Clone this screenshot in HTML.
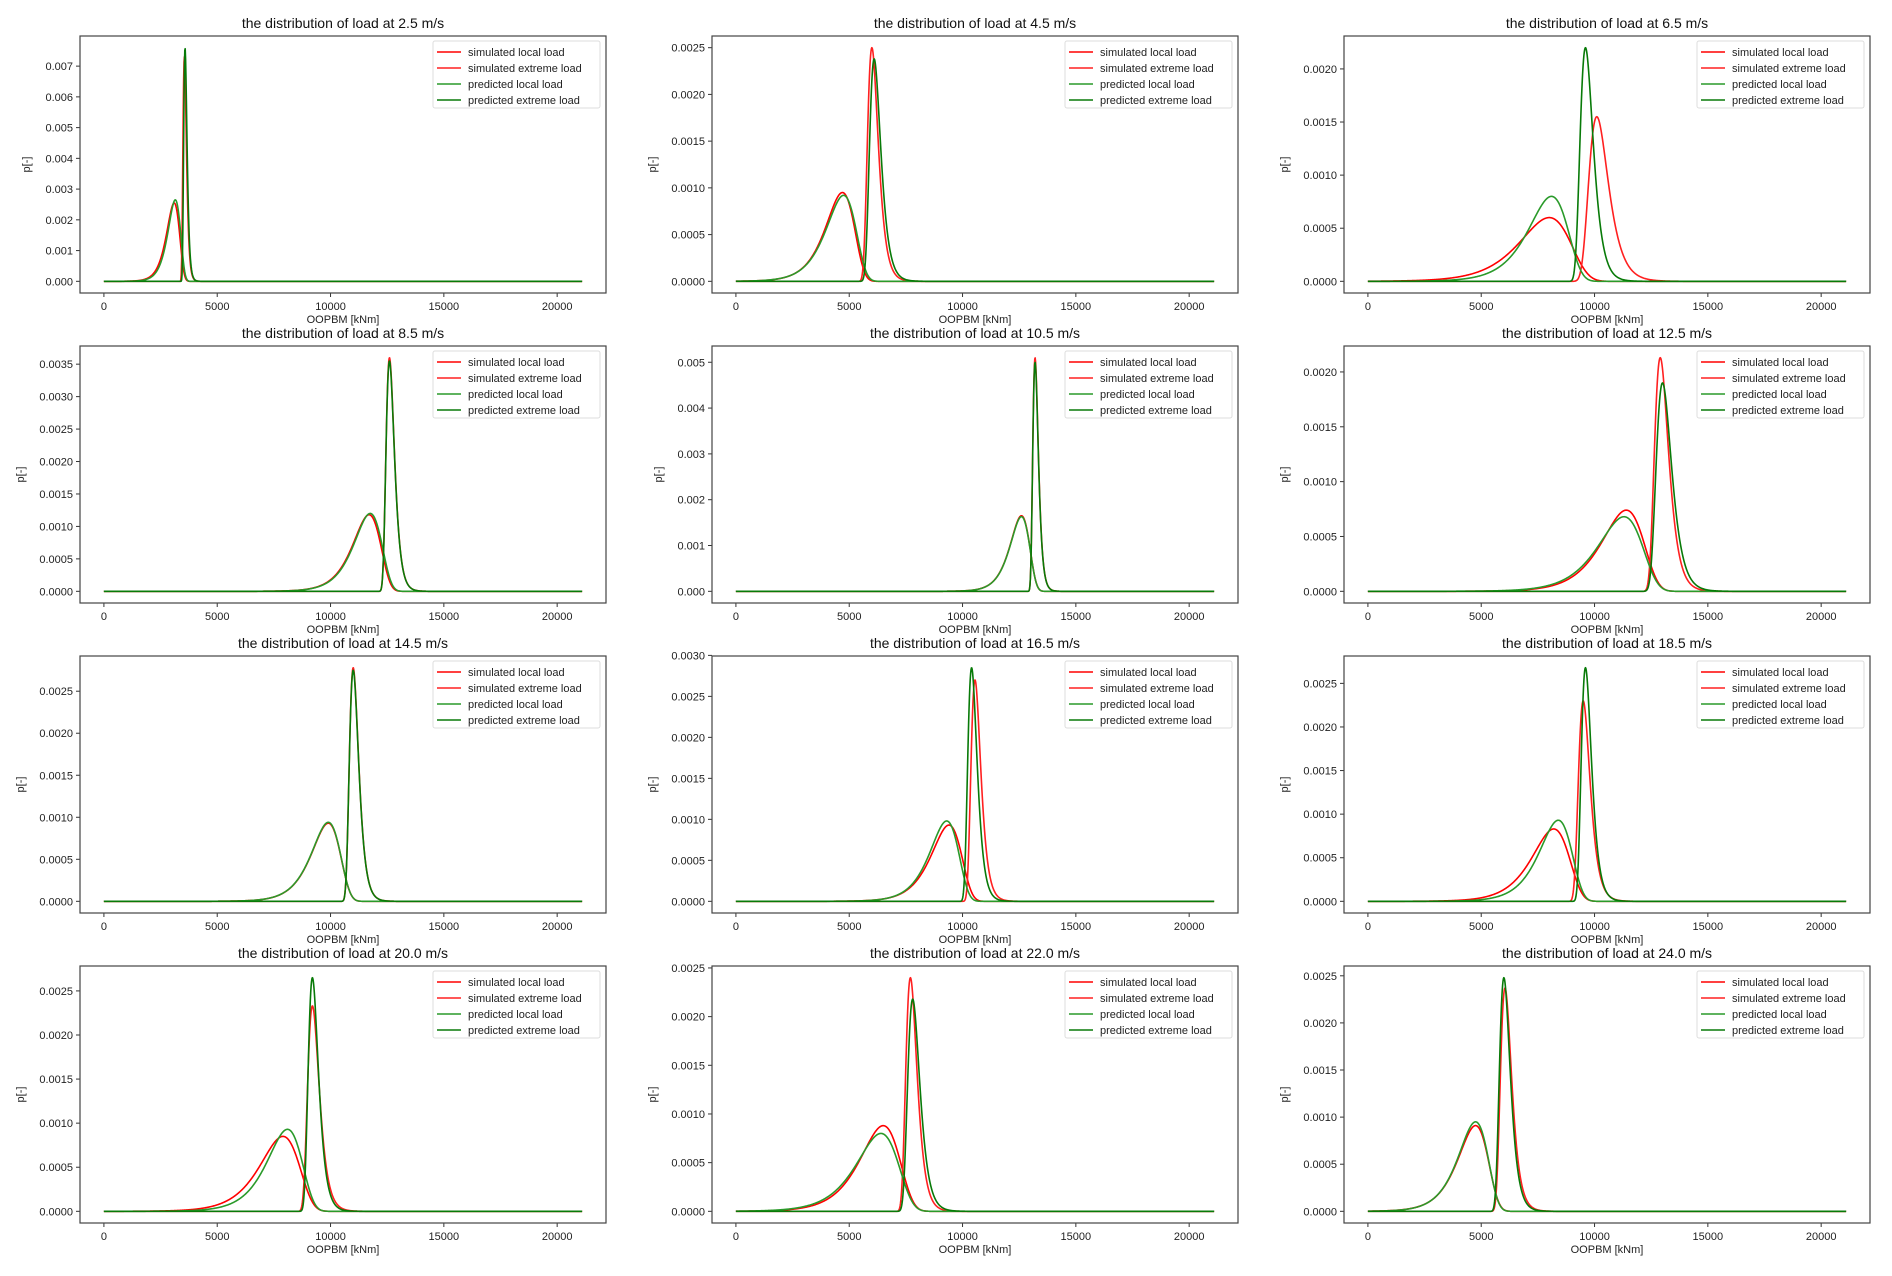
<!DOCTYPE html>
<html><head><meta charset="utf-8">
<style>
html,body{margin:0;padding:0;background:#fff;}
svg{display:block;font-family:"Liberation Sans","DejaVu Sans",sans-serif;}
</style></head>
<body>
<svg id="fig" width="1892" height="1276" viewBox="0 0 1892 1276" xmlns="http://www.w3.org/2000/svg"></svg>
<script>
// ---- data ----
const speeds = ["2.5","4.5","6.5","8.5","10.5","12.5","14.5","16.5","18.5","20.0","22.0","24.0"];
const seriesNames = ["simulated local load","simulated extreme load","predicted local load","predicted extreme load"];
const simLocalMode   = [3100,4700,8000,11700,12600,11400,9900,9400,8200,7900,6500,4750];
const simLocalPeak   = [0.00255,0.00095,0.0006,0.00118,0.00165,0.00074,0.00093,0.00093,0.00083,0.00085,0.00088,0.00091];
const simLocalWidth  = [280,620,1100,600,420,900,620,650,800,850,850,650];
const simExtMode     = [3550,6000,10100,12600,13200,12900,11000,10550,9500,9200,7700,6050];
const simExtPeak     = [0.0073,0.0025,0.00155,0.0036,0.0051,0.00213,0.00278,0.0027,0.0023,0.00233,0.0024,0.00237];
const simExtWidth    = [75,230,420,180,120,300,200,210,250,250,240,240];
const predLocalMode  = [3150,4750,8100,11750,12600,11300,9900,9300,8400,8100,6400,4750];
const predLocalPeak  = [0.00265,0.00092,0.0008,0.0012,0.00163,0.00068,0.00094,0.00098,0.00093,0.00093,0.0008,0.00095];
const predLocalWidth = [270,640,850,600,420,950,620,620,700,750,900,640];
const predExtMode    = [3580,6100,9600,12600,13200,13000,11000,10400,9600,9200,7800,6000];
const predExtPeak    = [0.0076,0.00238,0.0022,0.00355,0.0050,0.0019,0.00275,0.00285,0.00268,0.00265,0.00218,0.00248];
const predExtWidth   = [72,240,280,180,120,330,200,200,220,220,260,230];
const yTickStep      = [0.001,0.0005,0.0005,0.0005,0.001,0.0005,0.0005,0.0005,0.0005,0.0005,0.0005,0.0005];
const yTickCount     = [8,6,5,8,6,5,6,7,6,6,6,6];
const yTickDecimals  = [3,4,4,4,3,4,4,4,4,4,4,4];
const xTicks = [0,5000,10000,15000,20000];
const xTickLabels = ["0","5000","10000","15000","20000"];
const xMin = 0, xMax = 21100;

// ---- layout ----
const svg = document.getElementById('fig');
const NS = 'http://www.w3.org/2000/svg';
const colLeft = [80,712,1344], rowTop = [36,346,656,966];
const AW = 526, AH = 257;
const colors = ["#ff0000","#ff2020","#2a9a2a","#087a08"];

function el(tag, attrs, parent){const e=document.createElementNS(NS,tag);for(const k in attrs)e.setAttribute(k,attrs[k]);(parent||svg).appendChild(e);return e;}

function gumbelLocal(x,mode,peak,b){const z=(x-mode)/b;return peak*Math.E*Math.exp(z-Math.exp(z));}
function gumbelExt(x,mode,peak,b){const z=(x-mode)/b;return peak*Math.E*Math.exp(-z-Math.exp(-z));}

speeds.forEach((sp,i)=>{
  const L = colLeft[i%3], T = rowTop[Math.floor(i/3)];
  const g = el('g',{});
  
  
  const ymaxData = Math.max(simLocalPeak[i],simExtPeak[i],predLocalPeak[i],predExtPeak[i]);
  const y0 = -0.05*ymaxData, y1 = 1.05*ymaxData;
  const xr = xMax-xMin, x0 = xMin-0.05*xr, x1 = xMax+0.05*xr;
  const X = v => L + (v-x0)/(x1-x0)*AW;
  const Y = v => T + AH - (v-y0)/(y1-y0)*AH;

  const title = el('text',{x:L+AW/2,y:T-8,'text-anchor':'middle','font-size':'14',fill:'#111'},g);
  title.textContent = 'the distribution of load at '+sp+' m/s';
  
  

  xTicks.forEach((t,k)=>{
    el('line',{x1:X(t),x2:X(t),y1:T+AH,y2:T+AH+4,stroke:'#333','stroke-width':1},g);
    const tx = el('text',{x:X(t),y:T+AH+17,'text-anchor':'middle','font-size':'11',fill:'#222'},g);
    tx.textContent = xTickLabels[k];
    
    
  });
  const xl = el('text',{x:L+AW/2,y:T+AH+30,'text-anchor':'middle','font-size':'11',fill:'#222'},g);
  xl.textContent='OOPBM [kNm]';
  
  

  for(let k=0;k<yTickCount[i];k++){
    const v = k*yTickStep[i];
    el('line',{x1:L-4,x2:L,y1:Y(v),y2:Y(v),stroke:'#333','stroke-width':1},g);
    const ty = el('text',{x:L-7,y:Y(v)+4,'text-anchor':'end','font-size':'11',fill:'#222'},g);
    ty.textContent = v.toFixed(yTickDecimals[i]);
    
    
  }
  const yl = el('text',{x:0,y:0,'text-anchor':'middle','font-size':'11',fill:'#222',transform:`translate(${L-(yTickDecimals[i]===3?50:56)},${T+AH/2}) rotate(-90)`},g);
  yl.textContent='p[-]';
  
  

  const defs = [
    [gumbelLocal, simLocalMode[i], simLocalPeak[i], simLocalWidth[i]],
    [gumbelExt, simExtMode[i], simExtPeak[i], simExtWidth[i]],
    [gumbelLocal, predLocalMode[i], predLocalPeak[i], predLocalWidth[i]],
    [gumbelExt, predExtMode[i], predExtPeak[i], predExtWidth[i]]
  ];
  defs.forEach((d,s)=>{
    let pts=[];
    for(let n=0;n<=1200;n++){const x=xMin+(xMax-xMin)*n/1200;pts.push(X(x).toFixed(2)+','+Y(d[0](x,d[1],d[2],d[3])).toFixed(2));}
    const p = el('polyline',{points:pts.join(' '),fill:'none',stroke:colors[s],'stroke-width':1.6,'stroke-linejoin':'round'},g);
    
    
  });

  const fr = el('rect',{x:L,y:T,width:AW,height:AH,fill:'none',stroke:'#444','stroke-width':1.2},g);
  
  

  const lg = el('g',{},g);
  
  
  const LX = L+AW-173, LY = T+5;
  el('rect',{x:LX,y:LY,width:167,height:67,fill:'#fff',stroke:'#ddd','stroke-width':1,rx:2},lg);
  seriesNames.forEach((nm,s)=>{
    const yy = LY+11+s*16;
    el('line',{x1:LX+4,x2:LX+28,y1:yy,y2:yy,stroke:colors[s],'stroke-width':1.6},lg);
    const t = el('text',{x:LX+35,y:yy+4,'font-size':'11',fill:'#222'},lg);
    t.textContent = nm;
    
    
  });
});
</script>
</body></html>
